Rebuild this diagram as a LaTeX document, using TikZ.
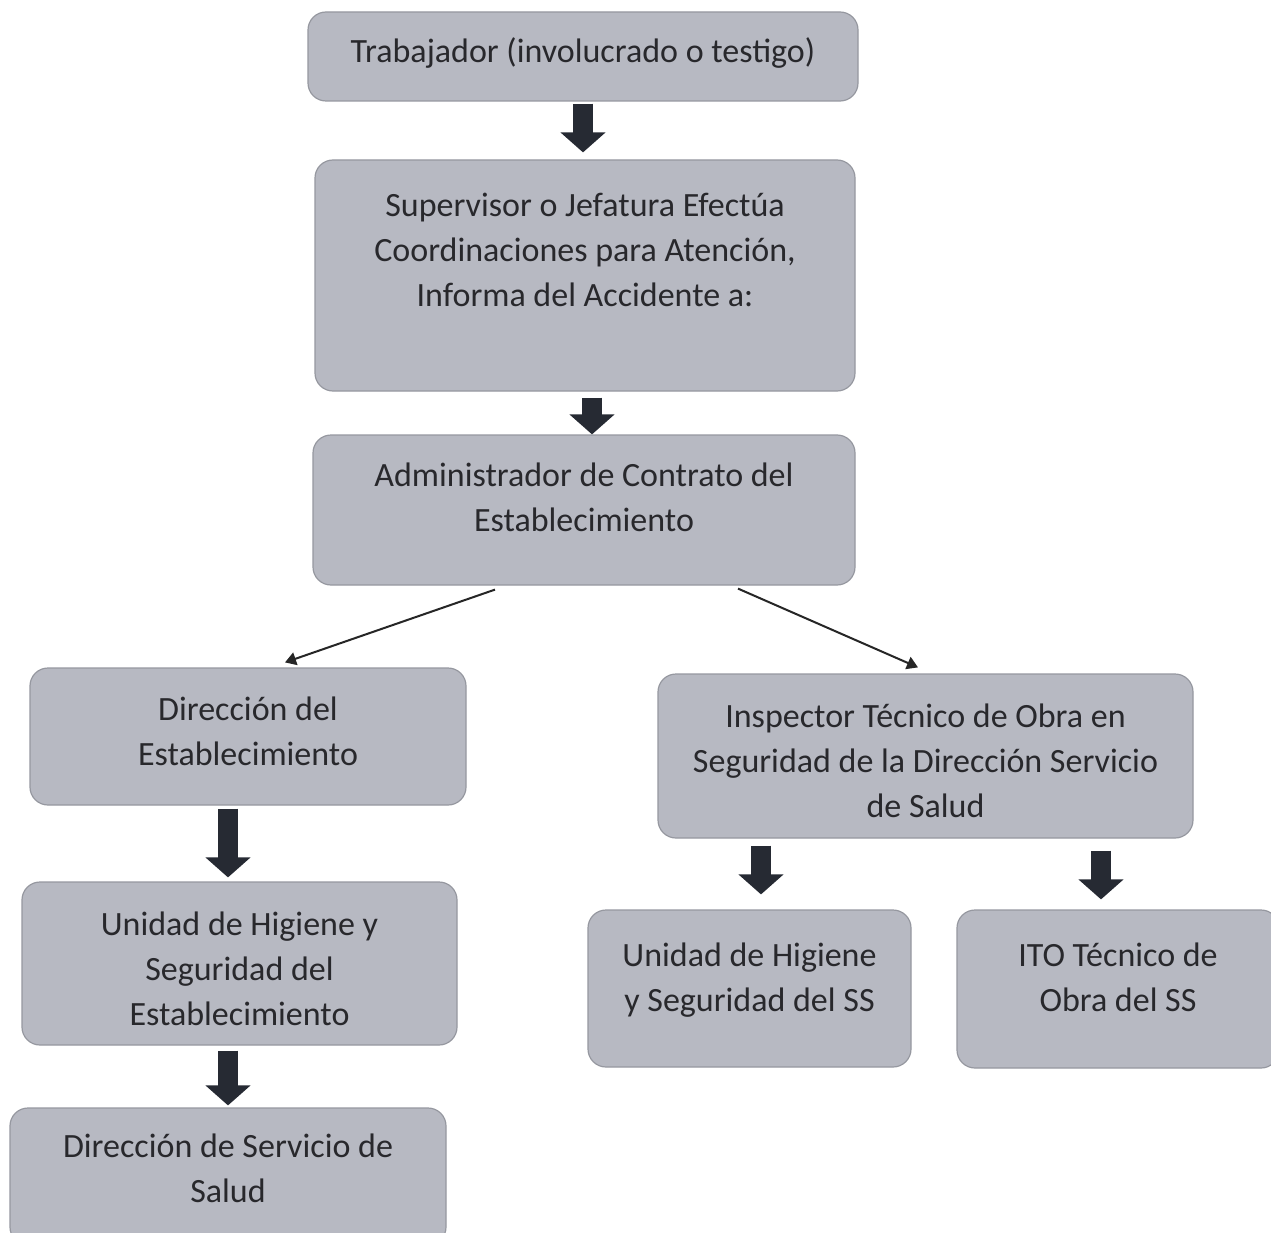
\documentclass[tikz,border=0pt]{standalone}
\usepackage{fontspec}
\setmainfont{Carlito}
\usetikzlibrary{arrows.meta,calc}
\definecolor{boxfill}{RGB}{183,185,194}
\definecolor{boxedge}{RGB}{150,152,160}
\definecolor{txtcol}{RGB}{40,40,44}
\definecolor{arrcol}{RGB}{38,42,51}
\tikzset{
  box/.style={draw=boxedge, line width=1.2pt, fill=boxfill, rounded corners=18pt, inner sep=0pt},
  txt/.style={align=center, text=txtcol, font=\fontsize{34}{45}\selectfont, inner sep=0pt},
  fat/.style={draw=arrcol, line width=20pt, -{Triangle[width=44pt,length=20pt]}, arrcol},
  thin/.style={draw=black!85, line width=2pt, -{Triangle[width=13pt,length=11pt]}},
}
\begin{document}
\begin{tikzpicture}[x=1pt,y=-1pt]
\useasboundingbox (0,0) rectangle (1271,1233);
\fill[white] (0,0) rectangle (1271,1233);

\node[box, minimum width=550pt, minimum height=89pt,
  label={[txt,yshift=4pt]center:{Trabajador (involucrado o testigo)}}] (b1) at (583,56.5) {};
\node[box, minimum width=540pt, minimum height=231pt,
  label={[txt,yshift=26pt]center:{Supervisor o Jefatura Efectúa\\Coordinaciones para Atención,\\Informa del Accidente a:}}] (b2) at (585,275.5) {};
\node[box, minimum width=542pt, minimum height=150pt,
  label={[txt,yshift=13pt]center:{Administrador de Contrato del\\Establecimiento}}] (b3) at (584,510) {};
\node[box, minimum width=436pt, minimum height=137pt,
  label={[txt,yshift=5pt]center:{Dirección del\\Establecimiento}}] (b4) at (248,736.5) {};
\node[box, minimum width=535pt, minimum height=164pt,
  label={[txt,yshift=-5pt]center:{Inspector Técnico de Obra en\\Seguridad de la Dirección Servicio\\de Salud}}] (b5) at (925.5,756) {};
\node[box, minimum width=435pt, minimum height=163pt,
  label={[txt,yshift=-5pt]center:{Unidad de Higiene y\\Seguridad del\\Establecimiento}}] (b6) at (239.5,963.5) {};
\node[box, minimum width=436pt, minimum height=137pt,
  label={[txt,yshift=8.5pt]center:{Dirección de Servicio de\\Salud}}] (b7) at (228,1176.5) {};
\node[box, minimum width=323pt, minimum height=157pt,
  label={[txt,yshift=8pt]center:{Unidad de Higiene\\y Seguridad del SS}}] (b8) at (749.5,988.5) {};
\node[box, minimum width=322pt, minimum height=158pt,
  label={[txt,yshift=11.5pt]center:{ITO Técnico de\\Obra del SS}}] (b9) at (1118,989) {};

\draw[fat] ($(583,0 |- b1.south)+(0,2)$) -- ($(583,0 |- b2.north)+(0,-7)$);
\draw[fat] ($(592,0 |- b2.south)+(0,6)$) -- ($(592,0 |- b3.north)+(0,0)$);
\draw[fat] ($(228,0 |- b4.south)+(0,3)$) -- ($(228,0 |- b6.north)+(0,-4)$);
\draw[fat] ($(228,0 |- b6.south)+(0,5)$) -- ($(228,0 |- b7.north)+(0,-2)$);
\draw[fat] ($(761,0 |- b5.south)+(0,7)$) -- ($(761,0 |- b8.north)+(0,-15)$);
\draw[fat] ($(1101,0 |- b5.south)+(0,12)$) -- ($(1101,0 |- b9.north)+(0,-10)$);

\draw[thin] ($(495,0 |- b3.south)+(0,4)$) -- ($(285,0 |- b4.north)+(0,-5)$);
\draw[thin] ($(738,0 |- b3.south)+(0,3)$) -- ($(918,0 |- b5.north)+(0,-6)$);
\end{tikzpicture}
\end{document}
